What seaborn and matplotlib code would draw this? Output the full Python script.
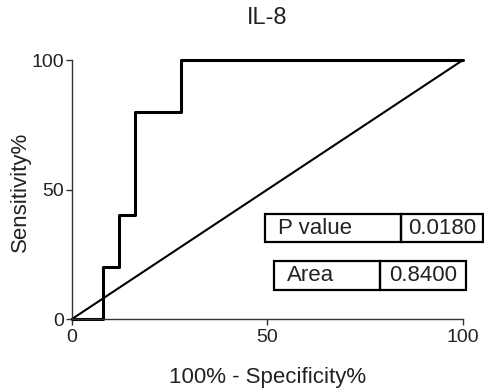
import matplotlib
matplotlib.use("Agg")
import matplotlib.pyplot as plt
import seaborn as sns
import pandas as pd
from matplotlib.patches import Rectangle

sns.set_theme(style="ticks")
plt.rcParams['font.family'] = ['Liberation Sans', 'DejaVu Sans']

# Data
fpr = [0, 8, 12, 16, 28, 100]
tpr = [0, 20, 40, 80, 100, 100]
diag_x = [0, 100]
diag_y = [0, 100]
x_ticks = [0, 50, 100]
y_ticks = [0, 50, 100]
stats_labels = ["P value", "Area"]
stats_values = ["0.0180", "0.8400"]

roc = pd.DataFrame({"x": fpr, "y": tpr})
diag = pd.DataFrame({"x": diag_x, "y": diag_y})

fig = plt.figure(figsize=(4.85, 3.91), dpi=100)
ax = fig.add_axes([72/485, 1-319/391, (463-72)/485, (319-60)/391])

sns.lineplot(data=diag, x="x", y="y", ax=ax, color="black", linewidth=1.5,
             sort=False, clip_on=False)
sns.lineplot(data=roc, x="x", y="y", ax=ax, color="black", linewidth=2.2,
             sort=False, drawstyle="steps-post", clip_on=False)

ax.set_xlim(0, 100)
ax.set_ylim(0, 100)
ax.set_xticks(x_ticks)
ax.set_yticks(y_ticks)
ax.tick_params(axis="both", labelsize=14, length=4.5, width=1, color="#333333",
               labelcolor="#222222")
ax.tick_params(axis="y", pad=1)
ax.tick_params(axis="x", pad=3)
for s in ["top", "right"]:
    ax.spines[s].set_visible(False)
for s in ["left", "bottom"]:
    ax.spines[s].set_color("#333333")
    ax.spines[s].set_linewidth(1)
ax.set_xlabel("")
ax.set_ylabel("")

fig.text(267/485, 1-18/391, "IL-8", ha="center", va="center", fontsize=17, color="#222222")
fig.text(268/485, 1-377/391, "100% - Specificity%", ha="center", va="center", fontsize=16, color="#222222")
fig.text(20/485, 1-192/391, "Sensitivity%", ha="center", va="center", rotation=90, fontsize=16, color="#222222")

boxes = [
    (265, 483, 214, 242, 401),
    (274, 466, 261, 290, 380),
]
for (l, r, t, b, d), lab, val in zip(boxes, stats_labels, stats_values):
    for (x0, x1) in [(l, d), (d, r)]:
        fig.add_artist(Rectangle((x0/485, 1-b/391), (x1-x0)/485, (b-t)/391,
                                 transform=fig.transFigure, fill=False,
                                 edgecolor="black", linewidth=1.6))
    yc = 1-(t+b)/2/391
    fig.text((l+13)/485, yc, lab, ha="left", va="center", fontsize=16, color="#222222")
    fig.text((d+r)/2/485, yc, val, ha="center", va="center", fontsize=16, color="#222222")

fig.savefig("out.png", dpi=100)
